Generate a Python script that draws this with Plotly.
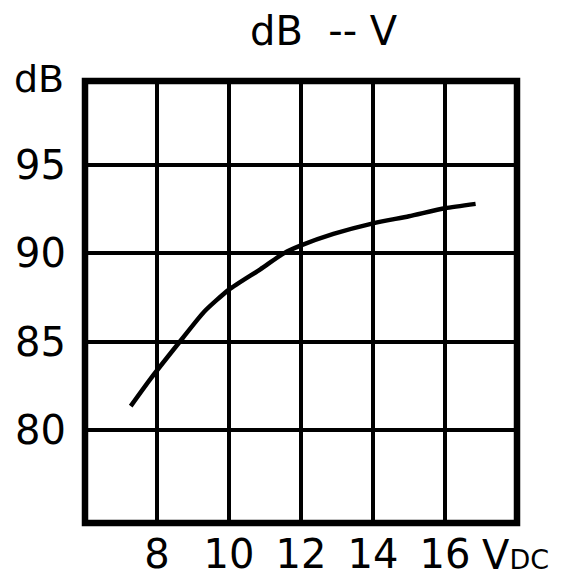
import plotly.graph_objects as go

volts = [7.27, 7.83, 8.71, 9.31, 10.0, 10.87, 11.52, 12.0, 12.9, 14.0, 15.0, 16.0, 16.85]
db = [81.36, 82.93, 85.2, 86.7, 87.95, 89.1, 90.0, 90.45, 91.1, 91.7, 92.1, 92.55, 92.8]

x_ticks = [8, 10, 12, 14, 16]
y_ticks = [80, 85, 90, 95]
title_text = "dB\u00a0\u00a0--\u00a0V"
y_unit = "dB"
x_unit = "V<span style='font-size:27px'>DC</span>"

FONT = "DejaVu Sans, Arial, sans-serif"

W, H = 567, 579
L, T = 85, 81
R, B = 50, 56
PW, PH = W - L - R, H - T - B


def px_x(p):
    return (p - L) / PW


def px_y(p):
    return (H - B - p) / PH


fig = go.Figure()
fig.add_trace(go.Scatter(x=volts, y=db, mode="lines",
                         line=dict(color="black", width=4.5, shape="spline", smoothing=0.6),
                         showlegend=False, hoverinfo="skip"))

fig.update_layout(
    width=W, height=H,
    margin=dict(l=L, r=R, t=T, b=B, pad=0, autoexpand=False),
    paper_bgcolor="white", plot_bgcolor="white",
    font=dict(family=FONT, color="black"),
    xaxis=dict(range=[6, 18], tickvals=x_ticks, ticktext=[str(v) for v in x_ticks],
               showgrid=True, gridcolor="black", gridwidth=4, zeroline=False, automargin=False,
               showline=False, ticks="", tickfont=dict(size=40, family=FONT, color="black"),
               ticklabelstandoff=4, fixedrange=True),
    yaxis=dict(range=[74.75, 99.75], tickvals=y_ticks, ticktext=[str(v) for v in y_ticks],
               showgrid=True, gridcolor="black", gridwidth=4, zeroline=False, automargin=False,
               showline=False, ticks="", tickfont=dict(size=40, family=FONT, color="black"),
               ticklabelstandoff=18, fixedrange=True),
    shapes=[dict(type="rect", xref="paper", yref="paper", x0=0, x1=1, y0=0, y1=1,
                 line=dict(color="black", width=6.5), layer="above")],
    annotations=[
        dict(text=title_text, xref="paper", yref="paper", x=px_x(323.5), y=px_y(31),
             xanchor="center", yanchor="middle", showarrow=False,
             font=dict(size=40, family=FONT, color="black")),
        dict(text=y_unit, xref="paper", yref="paper", x=px_x(66), y=px_y(79),
             xanchor="right", yanchor="middle", showarrow=False,
             font=dict(size=38, family=FONT, color="black")),
        dict(text=x_unit, xref="paper", yref="paper", x=px_x(480), y=px_y(555),
             xanchor="left", yanchor="middle", showarrow=False,
             font=dict(size=40, family=FONT, color="black")),
    ],
)

fig.write_html("out.html", config={"displayModeBar": False},
               post_script="document.body.style.margin='0';")
